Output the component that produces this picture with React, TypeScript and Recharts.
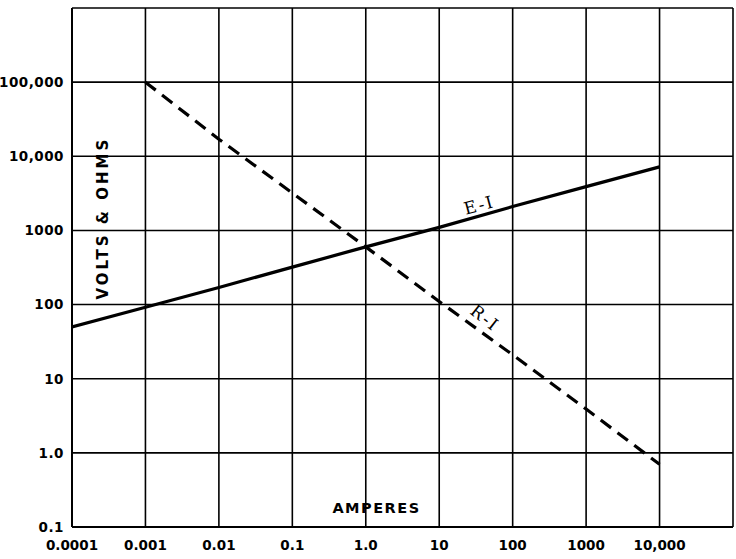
import React from "react";
import {
  LineChart,
  Line,
  XAxis,
  YAxis,
  CartesianGrid,
  ReferenceDot,
} from "recharts";

// amperes on the x axis (log)
const amperes = [0.0001, 0.001, 0.01, 0.1, 1, 10, 100, 1000, 10000];
// E-I : volts
const volts = [50, 92, 170, 320, 600, 1100, 2100, 3900, 7200];
// R-I : ohms (starts at 0.001 A)
const ohms = [null, 100000, 17000, 3200, 600, 110, 21, 3.9, 0.7];

const xTicks = [0.0001, 0.001, 0.01, 0.1, 1, 10, 100, 1000, 10000, 100000];
const xTickLabels = ["0.0001", "0.001", "0.01", "0.1", "1.0", "10", "100", "1000", "10,000", ""];
const yTicks = [0.1, 1, 10, 100, 1000, 10000, 100000, 1000000];
const yTickLabels = ["0.1", "1.0", "10", "100", "1000", "10,000", "100,000", ""];

// curve names and where they sit on the chart (amperes, value, angle)
const curveLabels = [
  { text: "E-I", amp: 35, value: 2200, angle: -15 },
  { text: "R-I", amp: 42, value: 66, angle: 38 },
];

const data = amperes.map((a, i) => ({ amp: a, volts: volts[i], ohms: ohms[i] }));

const FONT = "'DejaVu Sans', sans-serif";

export default function App() {
  return (
    <div style={{ position: "absolute", left: 0, top: 0, background: "#fff" }}>
      <LineChart
        width={736}
        height={559}
        data={data}
        margin={{ top: 8, right: 3, left: 2, bottom: 2 }}
      >
        <CartesianGrid
          stroke="#000"
          strokeWidth={1.6}
          horizontalValues={yTicks}
          verticalValues={xTicks}
        />
        <XAxis
          dataKey="amp"
          type="number"
          scale="log"
          domain={[0.0001, 100000]}
          ticks={xTicks}
          allowDataOverflow
          height={30}
          tickLine={false}
          tickMargin={7}
          axisLine={{ stroke: "#000", strokeWidth: 2 }}
          tickFormatter={(v: number) => xTickLabels[xTicks.indexOf(v)] ?? ""}
          tick={{ fill: "#000", fontSize: 13.5, fontWeight: 700, fontFamily: FONT }}
          label={{
            content: (p: any) => {
              const vb = p.viewBox;
              return (
                <text
                  x={vb.x + vb.width / 2 - 26}
                  y={vb.y - 14}
                  textAnchor="middle"
                  fill="#000"
                  fontSize={14.5}
                  fontWeight={700}
                  letterSpacing={1.5}
                  fontFamily={FONT}
                >
                  AMPERES
                </text>
              );
            },
          }}
        />
        <YAxis
          type="number"
          scale="log"
          domain={[0.1, 1000000]}
          ticks={yTicks}
          allowDataOverflow
          width={70}
          tickLine={false}
          tickMargin={2}
          axisLine={{ stroke: "#000", strokeWidth: 2 }}
          tickFormatter={(v: number) => yTickLabels[yTicks.indexOf(v)] ?? ""}
          tick={{ fill: "#000", fontSize: 13.5, fontWeight: 700, fontFamily: FONT, letterSpacing: 0.5 }}
          label={{
            content: (p: any) => {
              const vb = p.viewBox;
              const x = vb.x + vb.width + 31;
              const y = vb.y + vb.height * 0.405;
              return (
                <text
                  x={x}
                  y={y}
                  textAnchor="middle"
                  dominantBaseline="central"
                  transform={`rotate(-90, ${x}, ${y})`}
                  fill="#000"
                  fontSize={15}
                  fontWeight={700}
                  letterSpacing={3}
                  fontFamily={FONT}
                >
                  VOLTS &amp; OHMS
                </text>
              );
            },
          }}
        />
        <Line
          dataKey="volts"
          type="linear"
          stroke="#000"
          strokeWidth={3.2}
          dot={false}
          isAnimationActive={false}
        />
        <Line
          dataKey="ohms"
          type="linear"
          stroke="#000"
          strokeWidth={3.2}
          strokeDasharray="13 8"
          dot={false}
          isAnimationActive={false}
        />
        {curveLabels.map((c) => (
          <ReferenceDot
            key={c.text}
            x={c.amp}
            y={c.value}
            r={0}
            ifOverflow="visible"
            shape={(p: any) => (
              <text
                x={p.cx}
                y={p.cy}
                textAnchor="middle"
                dominantBaseline="central"
                transform={`rotate(${c.angle}, ${p.cx}, ${p.cy})`}
                fill="#000"
                fontSize={17}
                letterSpacing={2}
                fontFamily="'DejaVu Serif', serif"
              >
                {c.text}
              </text>
            )}
          />
        ))}
      </LineChart>
    </div>
  );
}
